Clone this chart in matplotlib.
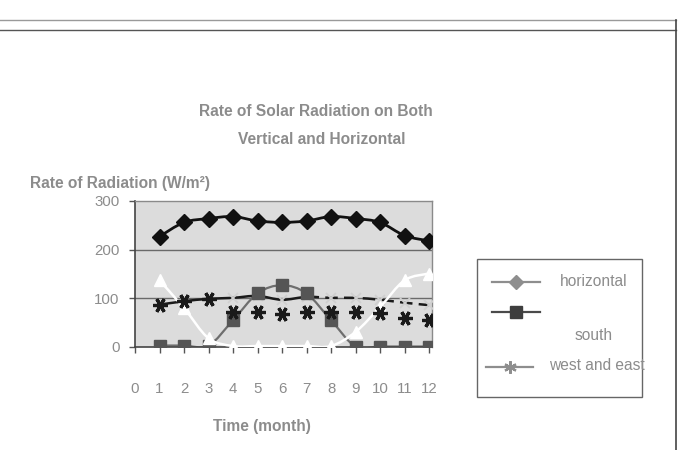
import numpy as np
import matplotlib
matplotlib.use("Agg")
import matplotlib.pyplot as plt
from matplotlib.path import Path
from matplotlib.patches import PathPatch, Rectangle
from matplotlib.lines import Line2D

plt.rcParams['font.family'] = ['Liberation Sans', 'DejaVu Sans']

# ---------------- data ----------------
months = [1, 2, 3, 4, 5, 6, 7, 8, 9, 10, 11, 12]
x_ticks = [0, 1, 2, 3, 4, 5, 6, 7, 8, 9, 10, 11, 12]
y_ticks = [0, 100, 200, 300]
horizontal = [227, 256, 264, 268, 259, 256, 259, 268, 264, 256, 229, 218]
south = [3, 3, 3, 55, 110, 127, 110, 55, 1, 1, 1, 1]
west_east_line = [87, 94, 99, 101, 105, 97, 103, 101, 101, 97, 91, 86]
west_east_marks = [np.nan, np.nan, np.nan, 71, 71, 67, 71, 71, 71, 69, 60, 55]
north = [137, 80, 18, 2, 2, 2, 2, 2, 31, 82, 137, 151]

title_lines = ["Rate of Solar Radiation on Both", "Vertical and Horizontal"]
y_label = "Rate of Radiation (W/m\u00b2)"
x_label = "Time (month)"
legend_labels = ["horizontal", "south", "west and east"]

GRAY_TXT = '#8c8c8c'
W, H = 680, 450
FS = 11.2
STAR = (6, 2, 90)


def smooth_path(xs, ys, start=0, end=None):
    """Excel-like smoothed line (cubic Bezier through the data points)."""
    pts = np.column_stack([xs, ys]).astype(float)
    n = len(pts)
    if end is None:
        end = n - 1
    verts = [pts[start]]
    codes = [Path.MOVETO]
    for i in range(start, end):
        p0 = pts[i - 1] if i > 0 else pts[i]
        p1 = pts[i]
        p2 = pts[i + 1]
        p3 = pts[i + 2] if i + 2 < n else pts[i + 1]
        c1 = p1 + (p2 - p0) / 6.0
        c2 = p2 - (p3 - p1) / 6.0
        verts += [c1, c2, p2]
        codes += [Path.CURVE4] * 3
    return Path(verts, codes)


fig = plt.figure(figsize=(W / 100, H / 100), dpi=100)

# outer frame of the scanned chart
fig.add_artist(Line2D([0, 676 / W], [1 - 20 / H, 1 - 20 / H], color='#9a9a9a', lw=1.0))
fig.add_artist(Line2D([0, 676 / W], [1 - 30 / H, 1 - 30 / H], color='#555555', lw=1.0))
fig.add_artist(Line2D([676 / W, 676 / W], [1 - 20 / H, 0], color='#444444', lw=1.2))

# plot area
L, R, T, B = 135, 432, 201, 347
ax = fig.add_axes([L / W, 1 - B / H, (R - L) / W, (B - T) / H])
ax.set_facecolor('#dcdcdc')
ax.set_xlim(0, 12.12)
ax.set_ylim(0, 300)

for v in [100, 200]:
    ax.axhline(v, color='#6a6a6a', lw=1.0, zorder=1)

# north (white, unlabelled)
ax.add_patch(PathPatch(smooth_path(months, north), fill=False, edgecolor='white', lw=1.8, zorder=3))
ax.plot(months, north, ls='none', marker='^', ms=9, mfc='white', mec='white', zorder=3.2)

# south
ax.add_patch(PathPatch(smooth_path(months, south), fill=False, edgecolor='#6e6e6e', lw=1.6, zorder=2.5))
ax.plot(months, south, ls='none', marker='s', ms=8.5, mfc='#555555', mec='#555555', zorder=2.8)

# west and east
ax.add_patch(PathPatch(smooth_path(months, west_east_line, 0, 6), fill=False,
                       edgecolor='#1a1a1a', lw=1.8, zorder=2.6))
ax.add_patch(PathPatch(smooth_path(months, west_east_line, 6, 11), fill=False,
                       edgecolor='#1a1a1a', lw=1.8, linestyle=(0, (5, 2.5)), zorder=2.6))
ax.plot(months[:3], west_east_line[:3], ls='none', marker=STAR, ms=10.5, mew=2.3,
        mec='#1a1a1a', zorder=4)
ax.plot(months[3:], west_east_line[3:], ls='none', marker='x', ms=7, mew=1.3,
        mec='#cfcfcf', zorder=2.7)
ax.plot(months, west_east_marks, ls='none', marker=STAR, ms=10.5, mew=2.3,
        mec='#1a1a1a', zorder=4)

# horizontal
ax.add_patch(PathPatch(smooth_path(months, horizontal), fill=False, edgecolor='#111111', lw=2.0, zorder=5))
ax.plot(months, horizontal, ls='none', marker='D', ms=8, mfc='#111111', mec='#111111', zorder=5.5)

# axes styling
for s in ['left', 'bottom']:
    ax.spines[s].set_color('#444444')
    ax.spines[s].set_linewidth(1.2)
for s in ['top', 'right']:
    ax.spines[s].set_color('#8a8a8a')
    ax.spines[s].set_linewidth(1.0)

ax.set_xticks(x_ticks)
ax.set_xticklabels([str(t) for t in x_ticks])
ax.set_yticks(y_ticks)
ax.set_yticklabels([str(t) for t in y_ticks])
ax.tick_params(axis='x', direction='out', length=4, width=1, color='#555555',
               labelcolor=GRAY_TXT, labelsize=10.8, pad=21)
ax.tick_params(axis='y', direction='out', length=4, width=1, color='#555555',
               labelcolor=GRAY_TXT, labelsize=10.8, pad=7)

# texts
fig.text(316 / W, 1 - 112 / H, title_lines[0], ha='center', va='center',
         fontsize=FS, fontweight='bold', color=GRAY_TXT)
fig.text(322 / W, 1 - 140 / H, title_lines[1], ha='center', va='center',
         fontsize=FS, fontweight='bold', color=GRAY_TXT)
fig.text(30 / W, 1 - 183 / H, y_label, ha='left', va='center',
         fontsize=FS, fontweight='bold', color=GRAY_TXT)
fig.text(262 / W, 1 - 427 / H, x_label, ha='center', va='center',
         fontsize=FS, fontweight='bold', color=GRAY_TXT)

# legend box
lx0, lx1, ly0, ly1 = 477, 643, 258, 398
lax = fig.add_axes([lx0 / W, 1 - ly1 / H, (lx1 - lx0) / W, (ly1 - ly0) / H])
lax.set_xlim(0, lx1 - lx0)
lax.set_ylim(ly1 - ly0, 0)
lax.axis('off')
lax.add_patch(Rectangle((0.5, 0.5), lx1 - lx0 - 1.5, ly1 - ly0 - 1.5, fill=False,
                        edgecolor='#666666', lw=1.0, clip_on=False))
lax.plot([15, 63], [24, 24], color='#8e8e8e', lw=1.6)
lax.plot([39], [24], marker='D', ms=7.5, mfc='#8e8e8e', mec='#8e8e8e')
lax.plot([15, 63], [54, 54], color='#4a4a4a', lw=1.6)
lax.plot([39], [54], marker='s', ms=8, mfc='#3e3e3e', mec='#3e3e3e')
lax.plot([9, 56], [109, 109], color='#8e8e8e', lw=1.6)
lax.plot([33], [109], marker=(6, 2, 0), ms=9, mew=1.6, mec='#8e8e8e')
lax.text(117, 24, legend_labels[0], ha='center', va='center', fontsize=FS, color=GRAY_TXT)
lax.text(117, 78, legend_labels[1], ha='center', va='center', fontsize=FS, color=GRAY_TXT)
lax.text(120, 108, legend_labels[2], ha='center', va='center', fontsize=FS, color=GRAY_TXT,
         clip_on=False)

fig.savefig('out.png', dpi=100, facecolor='white')
